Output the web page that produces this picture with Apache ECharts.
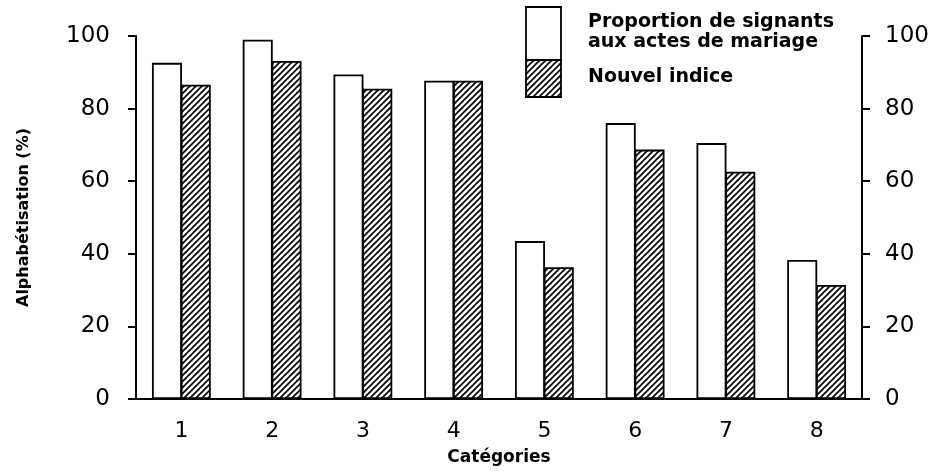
<!DOCTYPE html>
<html>
<head>
<meta charset="utf-8">
<script src="https://cdn.jsdelivr.net/npm/echarts@6/dist/echarts.min.js"></script>
<style>
  html, body { margin: 0; padding: 0; background: #fff; }
  #chart { width: 935px; height: 473px; }
</style>
</head>
<body>
<div id="chart"></div>
<script>
// catégories socio-professionnelles 1..8
const categories = ['1', '2', '3', '4', '5', '6', '7', '8'];
// proportion de signants aux actes de mariage (%)
const signants = [92.6, 99.0, 89.4, 87.7, 43.5, 76.0, 70.5, 38.3];
// nouvel indice (%)
const nouvelIndice = [86.6, 93.1, 85.5, 87.7, 36.3, 68.7, 62.6, 31.4];
const yTicks = [0, 20, 40, 60, 80, 100];

const FONT = 'DejaVu Sans';

// motif hachuré "/"
function makeHatch() {
  let c = document.createElement('canvas');
  c.width = 6;
  c.height = 6;
  let ctx = c.getContext('2d');
  ctx.fillStyle = '#fff';
  ctx.fillRect(0, 0, 6, 6);
  ctx.strokeStyle = '#000';
  ctx.lineWidth = 1.7;
  for (let k of [0, 6, 12]) {
    ctx.beginPath();
    ctx.moveTo(k - 7, 7);
    ctx.lineTo(k + 1, -1);
    ctx.stroke();
  }
  return c;
}
const hatch = { image: makeHatch(), repeat: 'repeat' };

let myChart = echarts.init(document.getElementById('chart'), null, { renderer: 'canvas' });

const yAxisCommon = {
  type: 'value',
  min: yTicks[0],
  max: yTicks[yTicks.length - 1],
  interval: 20,
  splitLine: { show: false },
  axisLine: { show: true, lineStyle: { color: '#000', width: 2 } },
  axisTick: { show: true, inside: false, length: 8, lineStyle: { color: '#000', width: 2 } },
};

let option = {
  backgroundColor: '#fff',
  animation: false,
  grid: { left: 136, right: 73, top: 36, bottom: 74 },
  xAxis: {
    type: 'category',
    data: categories,
    name: 'Catégories',
    nameLocation: 'middle',
    nameGap: 50,
    nameTextStyle: { fontFamily: FONT, fontSize: 17, fontWeight: 'bold', color: '#000' },
    axisLine: { lineStyle: { color: '#000', width: 2 } },
    axisTick: { alignWithLabel: true, length: 9, lineStyle: { color: '#000', width: 2 } },
    axisLabel: { margin: 21, fontFamily: FONT, fontSize: 22, color: '#000' },
  },
  yAxis: [
    Object.assign({}, yAxisCommon, {
      position: 'left',
      name: 'Alphabétisation (%)',
      nameLocation: 'middle',
      nameGap: 104,
      nameTextStyle: { fontFamily: FONT, fontSize: 16, fontWeight: 'bold', color: '#000' },
      axisLabel: { margin: 26, fontFamily: FONT, fontSize: 23, color: '#000' },
    }),
    Object.assign({}, yAxisCommon, {
      position: 'right',
      axisLabel: { margin: 23, fontFamily: FONT, fontSize: 23, color: '#000' },
    }),
  ],
  series: [
    {
      name: 'Proportion de signants aux actes de mariage',
      type: 'bar',
      data: signants,
      barWidth: 30,
      barGap: '-4%',
      itemStyle: { color: '#fff', borderColor: '#000', borderWidth: 1.8 },
    },
    {
      name: 'Nouvel indice',
      type: 'bar',
      data: nouvelIndice,
      barWidth: 30,
      itemStyle: { color: hatch, borderColor: '#000', borderWidth: 1.8 },
    },
  ],
  graphic: [
    {
      type: 'rect',
      shape: { x: 526, y: 7, width: 35, height: 53 },
      style: { fill: '#fff', stroke: '#000', lineWidth: 1.8 },
    },
    {
      type: 'rect',
      shape: { x: 526, y: 60, width: 35, height: 37 },
      style: { fill: hatch, stroke: '#000', lineWidth: 1.8 },
    },
    {
      type: 'text',
      x: 588,
      y: 12,
      style: {
        text: 'Proportion de signants\naux actes de mariage',
        font: 'bold 19px "DejaVu Sans"',
        fill: '#000',
        lineHeight: 20,
      },
    },
    {
      type: 'text',
      x: 588,
      y: 68,
      style: { text: 'Nouvel indice', font: 'bold 19px "DejaVu Sans"', fill: '#000' },
    },
  ],
};

myChart.setOption(option);
window.addEventListener('resize', function () {
  myChart.resize();
});
</script>
</body>
</html>
